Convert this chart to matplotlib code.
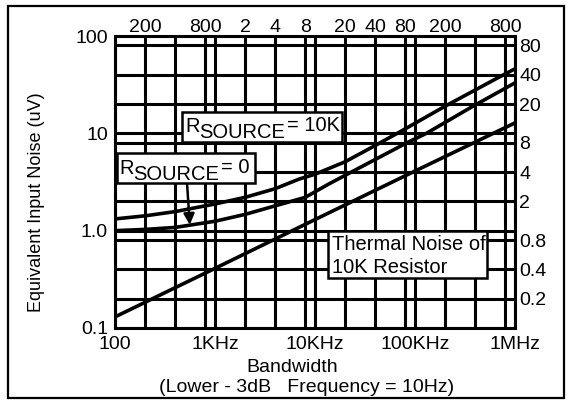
import matplotlib
matplotlib.use("Agg")
import matplotlib.pyplot as plt
from matplotlib.patches import Rectangle
from matplotlib.ticker import NullFormatter, NullLocator

plt.rcParams['font.family'] = ['Liberation Sans', 'DejaVu Sans']

# curve data (bandwidth in Hz, noise in uV)
freq_10k = [100, 200, 400, 1000, 2000, 4000, 7000, 10000, 20000, 40000, 70000, 200000, 700000, 1000000]
noise_10k = [1.32, 1.42, 1.57, 1.88, 2.2, 2.7, 3.4, 3.8, 5.1, 7.5, 10.3, 19.0, 38.0, 46.0]

freq_0 = [100, 200, 400, 1000, 2000, 4000, 8000, 13600, 20000, 83000, 130000, 380000, 1000000]
noise_0 = [1.0, 1.03, 1.08, 1.25, 1.47, 1.8, 2.2, 3.0, 3.7, 8.0, 10.0, 19.0, 33.0]

freq_th = [100, 1000, 10000, 100000, 1000000]
noise_th = [0.13, 0.41, 1.3, 4.1, 12.8]

# axis ticks / grid
x_major = [100, 1000, 10000, 100000, 1000000]
x_major_labels = ['100', '1KHz', '10KHz', '100KHz', '1MHz']
x_grid = [200, 400, 800, 2000, 4000, 8000, 20000, 40000, 80000, 200000, 400000, 800000]
top_ticks = [200, 800, 2000, 4000, 8000, 20000, 40000, 80000, 200000, 800000]
top_labels = ['200', '800', '2', '4', '8', '20', '40', '80', '200', '800']

y_major = [0.1, 1, 10, 100]
y_major_labels = ['0.1', '1.0', '10', '100']
y_grid = [0.2, 0.4, 0.8, 2, 4, 8, 20, 40, 80]
right_ticks = [0.2, 0.4, 0.8, 2, 4, 8, 20, 40, 80]
right_labels = ['0.2', '0.4', '0.8', '2', '4', '8', '20', '40', '80']

W, H = 567, 400
fs = 14
lw_grid = 2.2

fig = plt.figure(figsize=(W / 100, H / 100), dpi=100)
ax = fig.add_axes([115 / W, 72 / H, 400 / W, 292 / H])
ax.set_xscale('log')
ax.set_yscale('log')
ax.set_xlim(100, 1e6)
ax.set_ylim(0.1, 100)

ax.plot(freq_10k, noise_10k, color='black', lw=2.6, solid_capstyle='butt')
ax.plot(freq_0, noise_0, color='black', lw=2.6, solid_capstyle='butt')
ax.plot(freq_th, noise_th, color='black', lw=2.6, solid_capstyle='butt')

ax.set_xticks(x_major, labels=x_major_labels)
ax.set_xticks(x_grid, minor=True)
ax.xaxis.set_minor_formatter(NullFormatter())
ax.set_yticks(y_major, labels=y_major_labels)
ax.set_yticks(y_grid, minor=True)
ax.yaxis.set_minor_formatter(NullFormatter())
ax.tick_params(which='both', length=0, labelsize=fs)
ax.tick_params(axis='x', pad=6)
ax.tick_params(axis='y', pad=5)
ax.grid(which='both', color='black', lw=lw_grid)
for s in ax.spines.values():
    s.set_linewidth(lw_grid)

top = ax.secondary_xaxis('top')
top.set_xticks(top_ticks, labels=top_labels)
top.xaxis.set_minor_locator(NullLocator())
top.tick_params(length=0, pad=0, labelsize=fs)
top.spines['top'].set_visible(False)

right = ax.secondary_yaxis('right')
right.set_yticks(right_ticks, labels=right_labels)
right.yaxis.set_minor_locator(NullLocator())
right.tick_params(length=0, pad=3, labelsize=fs)
right.spines['right'].set_visible(False)


def fig_xy(x, y):
    return x / W, 1 - y / H


def box(x0, y0, x1, y1):
    ax.add_patch(Rectangle(fig_xy(x0, y1), (x1 - x0) / W, (y1 - y0) / H,
                           transform=fig.transFigure, facecolor='white',
                           edgecolor='black', lw=1.8, zorder=5, clip_on=False))


def rsource(x, y, value):
    t1 = ax.text(*fig_xy(x, y), 'R', transform=fig.transFigure, fontsize=14.5,
                 ha='left', va='bottom', zorder=6)
    t2 = ax.annotate('SOURCE', xy=(1, 0), xycoords=t1, xytext=(0, -4.5),
                     textcoords='offset points', fontsize=14.5, ha='left', va='bottom', zorder=6)
    ax.annotate(value, xy=(1, 0), xycoords=t2, xytext=(1, 5),
                textcoords='offset points', fontsize=14.5, ha='left', va='bottom', zorder=6)


box(182, 112, 342, 142)
rsource(185, 136, '= 10K')

box(117, 153, 255, 183)
rsource(119, 178, '= 0')

box(328, 231, 487, 278)
ax.text(*fig_xy(332, 250), 'Thermal Noise of', transform=fig.transFigure,
        fontsize=14.5, ha='left', va='baseline', zorder=6)
ax.text(*fig_xy(332, 273), '10K Resistor', transform=fig.transFigure,
        fontsize=14.5, ha='left', va='baseline', zorder=6)

ax.annotate('', xy=(560, 1.15), xycoords='data', xytext=fig_xy(187, 183),
            textcoords='figure fraction',
            arrowprops=dict(arrowstyle='-|>', color='black', lw=1.8,
                            mutation_scale=16, shrinkA=0, shrinkB=0), zorder=4)

fig.text(*fig_xy(37, 202), 'Equivalent Input Noise (uV)', rotation=90,
         ha='center', va='center', fontsize=13)
fig.text(*fig_xy(292, 368), 'Bandwidth', ha='center', va='center', fontsize=14)
fig.text(*fig_xy(307, 388), '(Lower - 3dB   Frequency = 10Hz)', ha='center', va='center',
         fontsize=14)

fig.add_artist(Rectangle((8 / W, 2 / H), 556 / W, 392 / H, transform=fig.transFigure,
                         fill=False, edgecolor='black', lw=1.6))

fig.savefig('out.png', dpi=100)
